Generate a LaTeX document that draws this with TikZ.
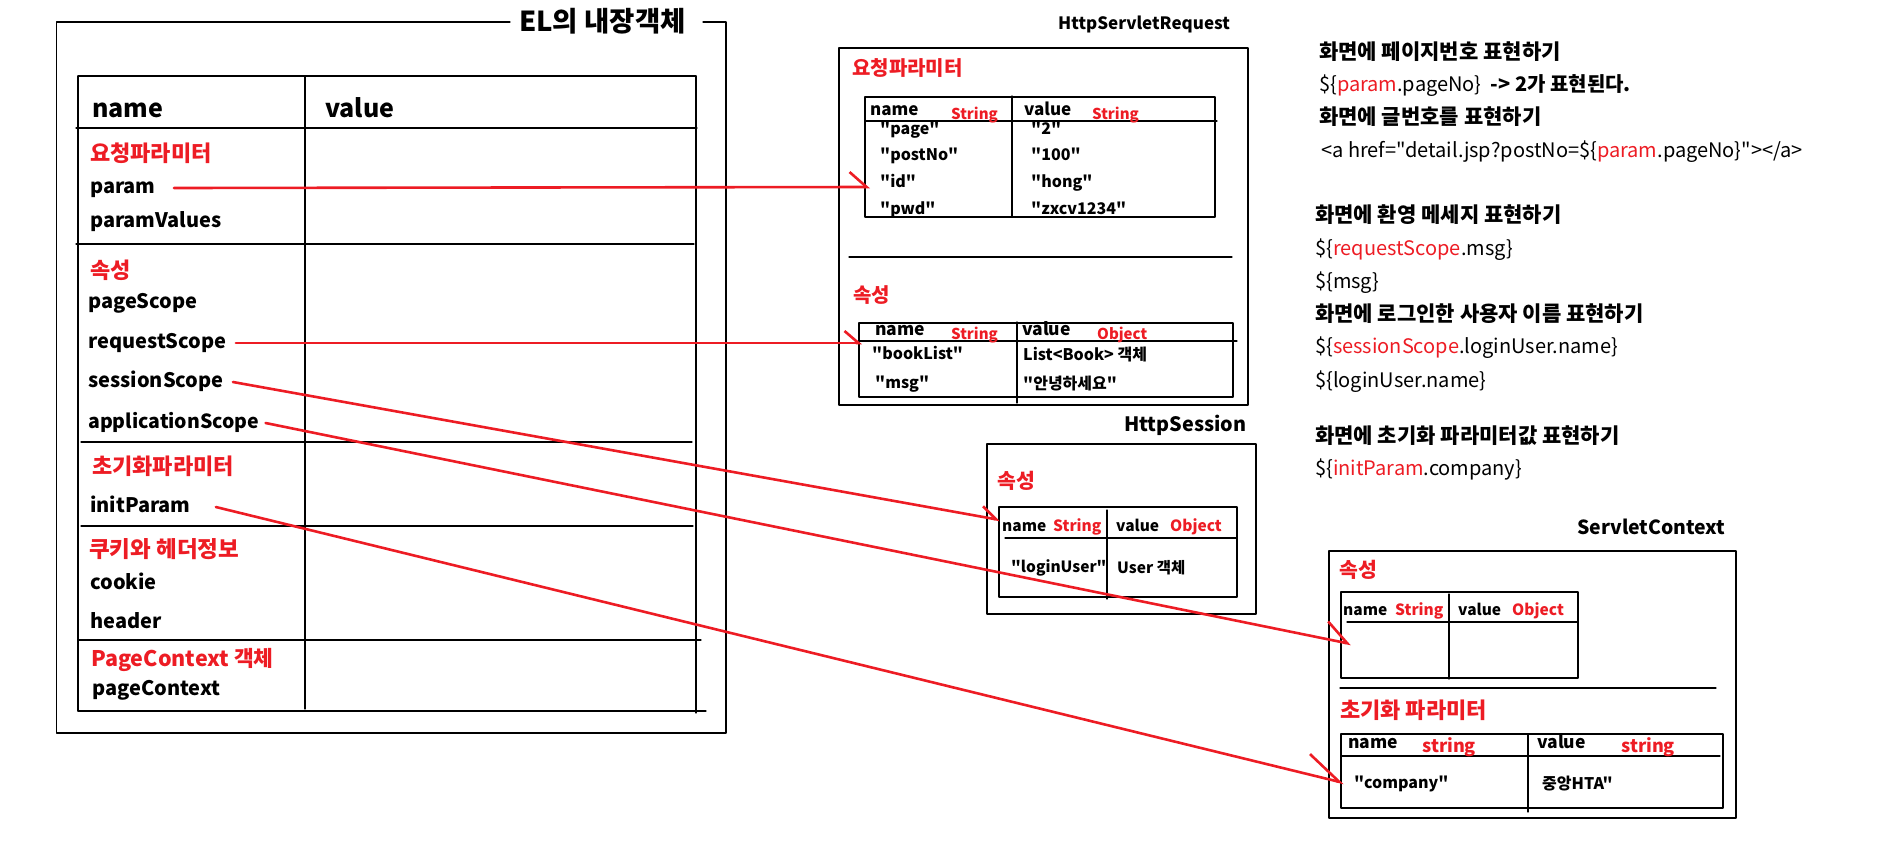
\documentclass[tikz,border=0pt]{standalone}
\usepackage{fontspec}
\setmainfont{Noto Sans CJK KR}[Ligatures=TeXOff]
\usetikzlibrary{arrows.meta}
\definecolor{elred}{RGB}{237,28,36}
\newcommand{\elsize}[1]{\fontsize{#1}{#1}\selectfont}
\tikzset{
  frame/.style={line width=1.2pt},
  txt/.style={anchor=west,inner sep=0pt,text height=\dimexpr#1pt*70/100\relax,
    text depth=\dimexpr#1pt*15/100\relax,font=\bfseries\elsize{#1}},
  txt/.default=16,
  kor/.style={txt=#1,text height=\dimexpr#1pt*85/100\relax},
  kor/.default=16,
  cat/.style={kor=#1,text=elred},
  cat/.default=20,
  typ/.style={txt=#1,text=elred},
  typ/.default=15,
  code/.style={txt=#1,font=\elsize{#1}},
  code/.default=20,
  link/.style 2 args={draw=elred,line width=2.6pt,-{Straight Barb[left,length=#1,width=#2]}}
}
\begin{document}
\begin{tikzpicture}[x=1pt,y=1pt,yscale=-1,every path/.style={join=round,cap=round}]
  \useasboundingbox (0,0) rectangle (1900,852);
  % EL box
  \draw[frame] (510,22) -- (56.5,22) -- (56.5,733) -- (726,733) -- (726,22) -- (703,22);
  \node[kor=27.5] (eltitle) at (519,22) {EL의 내장객체};
  \draw[frame] (78,76) -- (696,76);
  \draw[frame] (78,76) -- (78,711);
  \draw[frame] (696,76) -- (696,713);
  \draw[frame] (305,76) -- (305,709);
  \draw[frame] (78,711) -- (706,711);
  \foreach \y/\a/\b in {128/76/697,244/76/694,442/81/692,526/81/693,640/78/701}
    \draw[frame] (\a,\y) -- (\b,\y);
  \node[txt=25] (elname) at (92,111) {name};
  \node[txt=25] (elvalue) at (325,111) {value};
  \node[cat=22] (reqparam) at (90,154) {요청파라미터};
  \node[txt=20] (param) at (90,188) {param};
  \node[txt=20] (paramvalues) at (90,222) {paramValues};
  \node[cat=22] (attr) at (90,271) {속성};
  \node[txt=20] (pagescope) at (88,303) {pageScope};
  \node[txt=20] (requestscope) at (88,343) {requestScope};
  \node[txt=20] (sessionscope) at (88,382) {sessionScope};
  \node[txt=19.5] (applicationscope) at (88,423) {applicationScope};
  \node[cat=22] (initcat) at (92,467) {초기화파라미터};
  \node[txt=20] (initparam) at (90,507) {initParam};
  \node[cat=22.5] (cookiecat) at (89,550) {쿠키와 헤더정보};
  \node[txt=20] (cookie) at (90,584) {cookie};
  \node[txt=20] (header) at (90,623) {header};
  \node[cat=21.5] (pagecat) at (91,659) {PageContext 객체};
  \node[txt=20] (pagecontext) at (92,690) {pageContext};
  % HttpServletRequest
  \node[txt=17] (reqtitle) at (1058,25) {HttpServletRequest};
  \draw[frame] (839,48) rectangle (1248,405);
  \node[cat] (reqpcat) at (852,68) {요청파라미터};
  \draw[frame] (865,97) rectangle (1215,217);
  \draw[frame] (865,121) -- (1217,121);
  \draw[frame] (1012,96) -- (1012,217);
  \node[txt=17] (rpname) at (870,111) {name};
  \node[typ] (rpnametype) at (951,115) {String};
  \node[txt=17] (rpvalue) at (1024,111) {value};
  \node[typ] (rpvaluetype) at (1092,115) {String};
  \node[txt] (rpage) at (880,130) {"page"};
  \node[txt] (rpostno) at (880,156) {"postNo"};
  \node[txt] (rid) at (880,183) {"id"};
  \node[txt] (rpwd) at (880,210) {"pwd"};
  \node[txt] (rpagev) at (1031,130) {"2"};
  \node[txt] (rpostnov) at (1031,156) {"100"};
  \node[txt] (ridv) at (1031,183) {"hong"};
  \node[txt] (rpwdv) at (1031,210) {"zxcv1234"};
  \draw[frame] (849,257) -- (1232,257);
  \node[cat] (reqacat) at (853,295) {속성};
  \draw[frame] (859,323) rectangle (1233,397);
  \draw[frame] (859,341) -- (1237,341);
  \draw[frame] (1017,322) -- (1017,403);
  \node[txt=17.5] (raname) at (875,331) {name};
  \node[typ] (ranametype) at (951,335) {String};
  \node[txt=17.5] (ravalue) at (1022,331) {value};
  \node[typ] (ravaluetype) at (1097,335) {Object};
  \node[txt] (rbooklist) at (872,355) {"bookList"};
  \node[txt] (rmsg) at (875,384) {"msg"};
  \node[kor] (rbooklistv) at (1023,355) {List<Book> 객체};
  \node[kor] (rmsgv) at (1023,384) {"안녕하세요"};
  % HttpSession
  \node[txt=19.8] (sestitle) at (1124,426) {HttpSession};
  \draw[frame] (987,444) rectangle (1256,614);
  \node[cat=20.5] (sesacat) at (997,481) {속성};
  \draw[frame] (999,507) rectangle (1237,597);
  \draw[frame] (1005,538) -- (1237,538);
  \draw[frame] (1107,510) -- (1107,599);
  \node[txt=15.5] (sname) at (1002,527) {name};
  \node[typ=15.5] (snametype) at (1053,527) {String};
  \node[txt=15.5] (svalue) at (1116,527) {value};
  \node[typ=15.5] (svaluetype) at (1170,527) {Object};
  \node[txt=15.5] (sloginuser) at (1011,568) {"loginUser"};
  \node[kor=15.5] (sloginuserv) at (1117,568) {User 객체};
  % ServletContext
  \node[txt=19.4] (ctxtitle) at (1577,529) {ServletContext};
  \draw[frame] (1329,551) rectangle (1736,818);
  \node[cat=20.5] (ctxacat) at (1339,570) {속성};
  \draw[frame] (1341,592) rectangle (1578,678);
  \draw[frame] (1347,622) -- (1578,622);
  \draw[frame] (1449,594) -- (1449,679);
  \node[txt=15.5] (cname) at (1343,611) {name};
  \node[typ=15.5] (cnametype) at (1395,611) {String};
  \node[txt=15.5] (cvalue) at (1458,611) {value};
  \node[typ=15.5] (cvaluetype) at (1512,611) {Object};
  \draw[frame] (1340,688) -- (1716,688);
  \node[cat=22] (ctxicat) at (1340,711) {초기화 파라미터};
  \draw[frame] (1341,734) rectangle (1723,808);
  \draw[frame] (1341,756) -- (1720,756);
  \draw[frame] (1528,734) -- (1528,812);
  \node[txt=17.5] (ciname) at (1348,744) {name};
  \node[typ=18] (cinametype) at (1422,748) {string};
  \node[txt=17.5] (civalue) at (1537,744) {value};
  \node[typ=18] (civaluetype) at (1621,748) {string};
  \node[txt] (ccompany) at (1354,784) {"company"};
  \node[kor] (ccompanyv) at (1542,784) {중앙HTA"};
  % notes
  \node[kor=21] (note1) at (1319,52) {화면에 페이지번호 표현하기};
  \node[code] (note2) at (1319,86) {\$\{\textcolor{elred}{param}.pageNo\}\ \ \textbf{-> 2가 표현된다.}};
  \node[kor=21] (note3) at (1319,117) {화면에 글번호를 표현하기};
  \node[code] (note4) at (1321,152) {<a href="detail.jsp?postNo=\$\{\textcolor{elred}{param}.pageNo\}"></a>};
  \node[kor=21] (note5) at (1315,215) {화면에 환영 메세지 표현하기};
  \node[code] (note6) at (1315,250) {\$\{\textcolor{elred}{requestScope}.msg\}};
  \node[code] (note7) at (1315,283) {\$\{msg\}};
  \node[kor=21] (note8) at (1315,314) {화면에 로그인한 사용자 이름 표현하기};
  \node[code] (note9) at (1315,348) {\$\{\textcolor{elred}{sessionScope}.loginUser.name\}};
  \node[code] (note10) at (1315,382) {\$\{loginUser.name\}};
  \node[kor=21] (note11) at (1315,436) {화면에 초기화 파라미터값 표현하기};
  \node[code] (note12) at (1315,470) {\$\{\textcolor{elred}{initParam}.company\}};
  % links
  \coordinate (toid) at (870,187);
  \coordinate (toreqattr) at (862,343);
  \coordinate (tosesattr) at (1000,520);
  \coordinate (toctxattr) at (1351,644);
  \coordinate (tocompany) at (1344,783);
  \draw[link={17pt}{30pt}] ([xshift=18pt]param.east) -- (toid);
  \draw[link={14pt}{24pt}] ([xshift=9pt]requestscope.east) -- (toreqattr);
  \draw[link={15pt}{21pt}] ([xshift=9pt]sessionscope.east) -- (tosesattr);
  \draw[link={23pt}{35pt}] ([xshift=6pt]applicationscope.east) -- (toctxattr);
  \draw[link={35pt}{40pt}] ([xshift=25pt]initparam.east) -- (tocompany);
\end{tikzpicture}
\end{document}
